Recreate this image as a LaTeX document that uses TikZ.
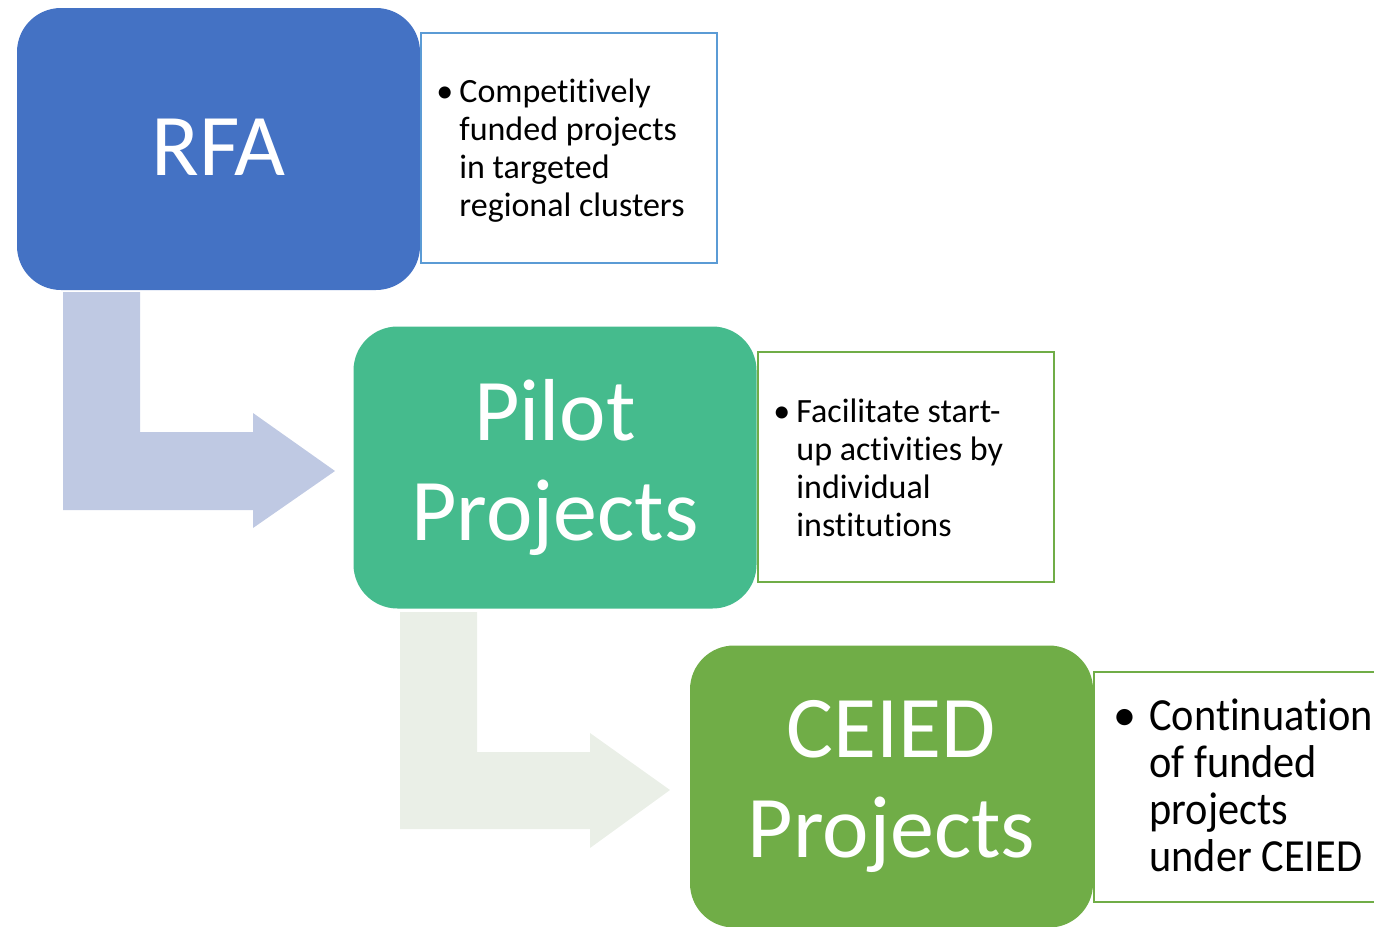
\documentclass[tikz,border=0pt]{standalone}
\usepackage{fontspec}
\setmainfont{Carlito}[Ligatures=NoCommon]
\newfontfamily\narrowfont{Carlito}[Ligatures=NoCommon, FakeStretch=0.92]
\usepackage{tikz}

\definecolor{rfablue}{HTML}{4472C4}
\definecolor{pilotgreen}{HTML}{45BB8D}
\definecolor{ceiedgreen}{HTML}{70AD47}
\definecolor{noteblue}{HTML}{5B9BD5}
\definecolor{arrowblue}{HTML}{BFC9E3}
\definecolor{arrowgrey}{HTML}{EAEFE7}

\tikzset{
  stagebox/.style={rectangle, rounded corners=22pt, minimum width=201.5pt,
    minimum height=141pt, inner sep=0pt, text=white, align=center,
    font=\fontsize{44}{50}\selectfont},
  notebox/.style={rectangle, draw, line width=1pt, fill=white,
    minimum width=148pt, minimum height=115pt, inner sep=0pt},
  dot/.style={anchor=base west, inner sep=0pt},
  notetext/.style={anchor=base west, inner sep=0pt, align=left}
}

\begin{document}
\begin{tikzpicture}[x=0.5pt,y=-0.5pt]
  \useasboundingbox (0,0) rectangle (1374,926);
  % bent arrows
  \fill[arrowblue] (63,292) -- (140,292) -- (140,432) -- (253,432) -- (253,413)
    -- (335,471) -- (253,528) -- (253,510) -- (63,510) -- cycle;
  \fill[arrowgrey] (400,612) -- (477,612) -- (477,752) -- (590,752) -- (590,733)
    -- (670,790) -- (590,848) -- (590,829) -- (400,829) -- cycle;

  % stages
  \node[stagebox, fill=rfablue] (rfa) at (218.5,149) {\raisebox{2pt}{RFA}};
  \node[stagebox, fill=pilotgreen] (pilot) at (555,467.5) {Pilot\\Projects};
  \node[stagebox, fill=ceiedgreen] (ceied) at (891.5,786.5) {CEIED\\Projects};

  % notes (text anchored on the baseline of its last line)
  \node[notebox, draw=noteblue] (rfanote) at (569,148) {};
  \node[notebox, draw=ceiedgreen] (pilotnote) at (906,467) {};
  \node[notebox, draw=ceiedgreen] (ceiednote) at (1242,787) {};

  \node[dot, font=\fontsize{17}{19}\selectfont] (rfadot) at (436,102) {\textbullet};
  \node[notetext, font=\fontsize{17}{19}\selectfont] (rfatext) at (459,216)
    {Competitively\\funded projects\\in targeted\\regional clusters};
  \node[dot, font=\fontsize{17}{19}\selectfont] (pilotdot) at (773,422) {\textbullet};
  \node[notetext, font=\fontsize{17}{19}\selectfont] (pilottext) at (796,536)
    {Facilitate start-\\up activities by\\individual\\institutions};
  \node[dot, font=\fontsize{23}{23.5}\selectfont] (ceieddot) at (1113,730) {\textbullet};
  \node[notetext, font=\narrowfont\fontsize{23}{23.5}\selectfont] (ceiedtext) at (1149,871)
    {Continuation\\of funded\\projects\\under CEIED};
\end{tikzpicture}
\end{document}
